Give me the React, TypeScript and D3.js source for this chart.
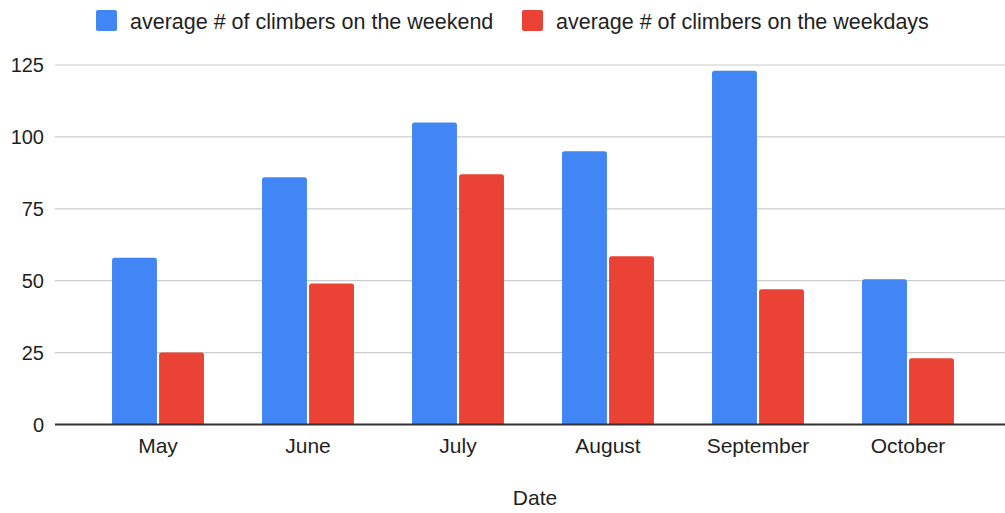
import { useEffect, useRef } from 'react';
import * as d3 from 'd3';

const months = ['May', 'June', 'July', 'August', 'September', 'October'];
const weekend = [58, 86, 105, 95, 123, 50.5];
const weekdays = [25, 49, 87, 58.5, 47, 23];
const seriesNames = ['average # of climbers on the weekend', 'average # of climbers on the weekdays'];
const seriesColors = ['#4285f4', '#ea4335'];
const yTicks = [0, 25, 50, 75, 100, 125];

const W = 1005;
const H = 513;

const App = () => {
  const svgRef = useRef<SVGSVGElement>(null);

  useEffect(() => {
    if (!svgRef.current) return;
    const svg = d3.select(svgRef.current);
    svg.selectAll('*').remove();

    const font = '"Liberation Sans", Arial, sans-serif';

    const x = d3.scaleBand<string>()
      .domain(months)
      .range([83, 983])
      .paddingInner(0.387)
      .paddingOuter(0.1935);

    const inner = d3.scaleBand<number>()
      .domain([0, 1])
      .range([0, x.bandwidth()])
      .paddingInner(0.045);

    const y = d3.scaleLinear().domain([0, 125]).range([424.5, 65]);

    svg.append('rect').attr('width', W).attr('height', H).attr('fill', '#fff');

    // gridlines + tick labels
    const grid = svg.append('g');
    yTicks.forEach(t => {
      if (t !== 0) {
        grid.append('line')
          .attr('x1', 55).attr('x2', W)
          .attr('y1', y(t)).attr('y2', y(t))
          .attr('stroke', '#cccccc').attr('stroke-width', 1.2);
      }
      grid.append('text')
        .attr('x', 44).attr('y', y(t))
        .attr('dy', '0.35em')
        .attr('text-anchor', 'end')
        .attr('font-family', font).attr('font-size', 20)
        .attr('fill', '#1f1f1f')
        .text(t);
    });

    // bars (top corners rounded)
    const barPath = (bx: number, by: number, bw: number, bh: number, r: number) =>
      `M${bx},${by + bh}V${by + r}Q${bx},${by} ${bx + r},${by}H${bx + bw - r}Q${bx + bw},${by} ${bx + bw},${by + r}V${by + bh}Z`;

    [weekend, weekdays].forEach((vals, si) => {
      svg.append('g')
        .selectAll('path')
        .data(vals)
        .enter()
        .append('path')
        .attr('d', (d, i) => {
          const bx = (x(months[i]) ?? 0) + (inner(si) ?? 0);
          return barPath(bx, y(d), inner.bandwidth(), y(0) - y(d), 2.5);
        })
        .attr('fill', seriesColors[si]);
    });

    // baseline
    svg.append('line')
      .attr('x1', 55).attr('x2', W)
      .attr('y1', y(0)).attr('y2', y(0))
      .attr('stroke', '#333').attr('stroke-width', 2);

    // month labels
    svg.append('g')
      .selectAll('text')
      .data(months)
      .enter()
      .append('text')
      .attr('x', d => (x(d) ?? 0) + x.bandwidth() / 2)
      .attr('y', 453)
      .attr('text-anchor', 'middle')
      .attr('font-family', font).attr('font-size', 21)
      .attr('fill', '#1f1f1f')
      .text(d => d);

    // axis title
    svg.append('text')
      .attr('x', 535).attr('y', 505)
      .attr('text-anchor', 'middle')
      .attr('font-family', font).attr('font-size', 21)
      .attr('fill', '#1f1f1f')
      .text('Date');

    // legend
    const legendX = [96, 522];
    seriesNames.forEach((name, i) => {
      const g = svg.append('g').attr('transform', `translate(${legendX[i]},10)`);
      g.append('rect')
        .attr('width', 21).attr('height', 21).attr('rx', 2)
        .attr('fill', seriesColors[i]);
      g.append('text')
        .attr('x', 34).attr('y', 11)
        .attr('dy', '0.35em')
        .attr('font-family', font).attr('font-size', 21.5)
        .attr('fill', '#1f1f1f')
        .text(name);
    });
  }, []);

  return (
    <svg
      ref={svgRef}
      width={W}
      height={H}
      viewBox={`0 0 ${W} ${H}`}
      style={{ position: 'absolute', left: 0, top: 0, display: 'block' }}
    />
  );
};

export default App;
